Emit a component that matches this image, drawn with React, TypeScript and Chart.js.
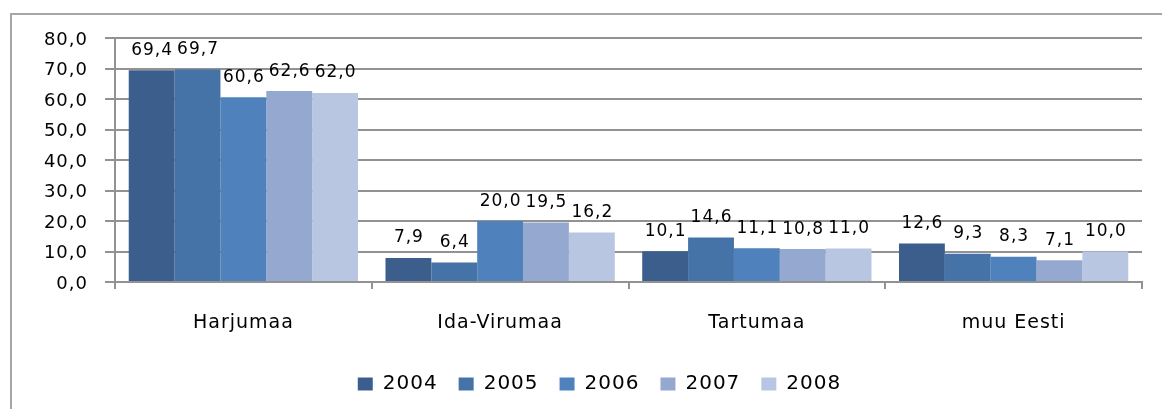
import React, { useEffect, useRef } from "react";
import { Chart, registerables } from "chart.js";

Chart.register(...registerables);

const categories = ["Harjumaa", "Ida-Virumaa", "Tartumaa", "muu Eesti"];
const seriesNames = ["2004", "2005", "2006", "2007", "2008"];
const values2004 = [69.4, 7.9, 10.1, 12.6];
const values2005 = [69.7, 6.4, 14.6, 9.3];
const values2006 = [60.6, 20.0, 11.1, 8.3];
const values2007 = [62.6, 19.5, 10.8, 7.1];
const values2008 = [62.0, 16.2, 11.0, 10.0];
const seriesColors = ["#3B5E8C", "#4572A7", "#4F81BD", "#95A9D0", "#B9C6E1"];
const yTicks = [0, 10, 20, 30, 40, 50, 60, 70, 80];

const FONT = "'DejaVu Sans', Verdana, sans-serif";
const GRID = "#929292";

const fmt = (v: number) => v.toFixed(1).replace(".", ",");

const spacingPlugin = {
  id: "spacing",
  beforeUpdate(chart: any) {
    chart.ctx.letterSpacing = "1px";
  },
  beforeDraw(chart: any) {
    chart.ctx.letterSpacing = "1px";
    if (chart.legend) {
      chart.legend.left = 57;
    }
  },
};

const labelPlugin = {
  id: "barLabels",
  afterDatasetsDraw(chart: any) {
    const ctx = chart.ctx;
    ctx.save();
    ctx.letterSpacing = "1px";
    ctx.font = `17px ${FONT}`;
    ctx.fillStyle = "#000";
    ctx.textAlign = "center";
    ctx.textBaseline = "alphabetic";
    chart.data.datasets.forEach((ds: any, i: number) => {
      const meta = chart.getDatasetMeta(i);
      meta.data.forEach((el: any, j: number) => {
        ctx.fillText(fmt(ds.data[j]), el.x + 0.5, el.y - 15.5);
      });
    });
    ctx.restore();
  },
};

export default function App() {
  const ref = useRef<HTMLCanvasElement>(null);
  useEffect(() => {
    const allValues = [values2004, values2005, values2006, values2007, values2008];
    const chart = new Chart(ref.current!, {
      type: "bar",
      data: {
        labels: categories,
        datasets: seriesNames.map((name, i) => ({
          label: name,
          data: allValues[i],
          backgroundColor: seriesColors[i],
          borderWidth: 0,
          categoryPercentage: 0.893,
          barPercentage: 1,
        })),
      },
      options: {
        animation: false,
        responsive: false,
        devicePixelRatio: 1,
        layout: { padding: { left: 0, right: 20, top: 38, bottom: 5 } },
        plugins: {
          legend: {
            position: "bottom",
            labels: {
              font: { family: FONT, size: 20 },
              color: "#000",
              boxWidth: 15,
              boxHeight: 13,
              padding: 21,
            },
          },
          tooltip: { enabled: false },
        },
        scales: {
          x: {
            offset: true,
            grid: {
              offset: true,
              drawOnChartArea: false,
              drawTicks: true,
              tickLength: 7,
              color: GRID,
              lineWidth: 2,
            },
            border: { color: GRID, width: 2 },
            ticks: {
              font: { family: FONT, size: 19 },
              color: "#000",
              padding: 23,
              maxRotation: 0,
            },
            afterFit(scale: any) {
              scale.height = 71;
            },
          },
          y: {
            min: 0,
            max: 80,
            afterBuildTicks(scale: any) {
              scale.ticks = yTicks.map((v) => ({ value: v }));
            },
            grid: { color: GRID, lineWidth: 2, tickLength: 10 },
            border: { color: GRID, width: 2 },
            ticks: {
              font: { family: FONT, size: 18 },
              color: "#000",
              padding: 17,
              labelOffset: 2,
              callback: (v: any) => fmt(Number(v)),
            },
            afterFit(scale: any) {
              scale.width = 115;
            },
          },
        },
      },
      plugins: [spacingPlugin, labelPlugin],
    });
    return () => chart.destroy();
  }, []);

  return (
    <div
      style={{
        position: "absolute",
        left: 0,
        top: 0,
        width: 1162,
        height: 409,
        overflow: "hidden",
        background: "#fff",
      }}
    >
      <div
        style={{
          position: "absolute",
          left: 10,
          top: 13,
          width: 1200,
          height: 450,
          borderLeft: "2px solid #a6a6a6",
          borderTop: "2px solid #a6a6a6",
        }}
      />
      <canvas
        ref={ref}
        width={1162}
        height={409}
        style={{ position: "absolute", left: 0, top: 0, width: 1162, height: 409 }}
      />
    </div>
  );
}
